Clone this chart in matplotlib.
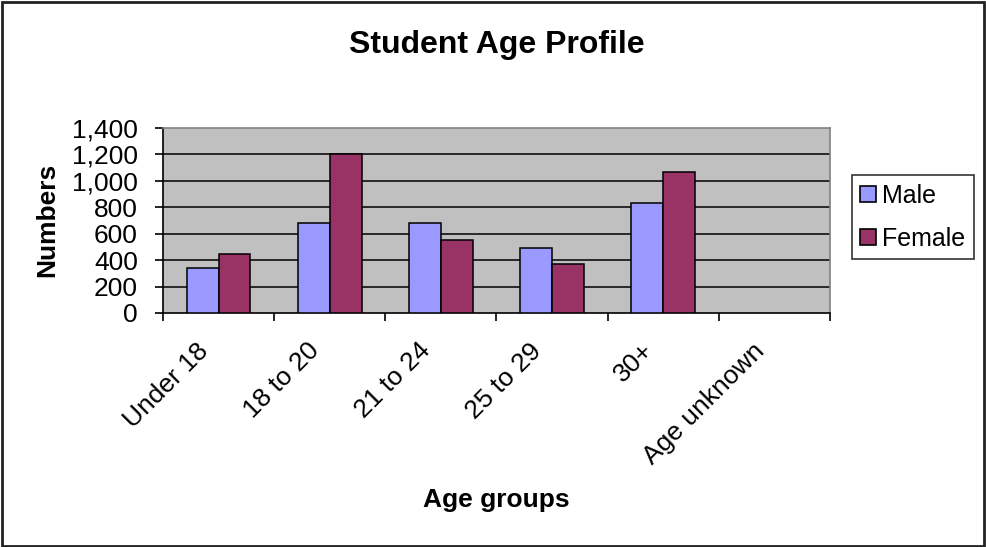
import numpy as np
import matplotlib
matplotlib.use("Agg")
import matplotlib.pyplot as plt
from matplotlib.lines import Line2D
from matplotlib.patches import Rectangle
from matplotlib.transforms import ScaledTranslation

# Data
categories = ["Under 18", "18 to 20", "21 to 24", "25 to 29", "30+", "Age unknown"]
male = [340, 680, 680, 495, 835, np.nan]
female = [445, 1200, 555, 370, 1070, np.nan]
y_ticks = [0, 200, 400, 600, 800, 1000, 1200, 1400]

male_color = "#9999FF"
female_color = "#993366"

plt.rcParams["font.family"] = ["Liberation Sans", "DejaVu Sans"]

fig = plt.figure(figsize=(9.87, 5.47), dpi=100)
ax = fig.add_axes([163 / 987, 1 - 313 / 547, (830 - 163) / 987, (313 - 128) / 547])
ax.set_facecolor("#C0C0C0")

x = np.arange(len(categories))
w = 0.286
ax.bar(x - w / 2, male, w, color=male_color, edgecolor="black", linewidth=1.1, zorder=3)
ax.bar(x + w / 2, female, w, color=female_color, edgecolor="black", linewidth=1.1, zorder=3)

ax.set_xlim(-0.5, len(categories) - 0.5)
ax.set_ylim(0, 1400)
ax.set_yticks(y_ticks)
ax.set_yticklabels([f"{v:,}" for v in y_ticks], fontsize=19)
for v in y_ticks[1:-1]:
    ax.axhline(v, color="black", linewidth=1.1, zorder=1)

# ticks between categories, labels at the centres
ax.set_xticks(np.arange(len(categories) + 1) - 0.5)
ax.set_xticklabels([])
ax.set_xticks(x, minor=True)
ax.set_xticklabels(categories, minor=True, fontsize=19, rotation=45,
                   ha="right", va="baseline", rotation_mode="anchor")
ax.tick_params(axis="x", which="major", direction="out", length=6, width=1.2)
ax.tick_params(axis="x", which="minor", length=0, pad=28)
ax.tick_params(axis="y", direction="out", length=6, width=1.2, pad=12)
shift = ScaledTranslation(-0.09, 0, fig.dpi_scale_trans)
for lbl in ax.get_xticklabels(minor=True):
    lbl.set_transform(lbl.get_transform() + shift)

for side in ["top", "right"]:
    ax.spines[side].set_color("#808080")
    ax.spines[side].set_linewidth(1.2)
for side in ["left", "bottom"]:
    ax.spines[side].set_color("black")
    ax.spines[side].set_linewidth(1.2)

fig.text(496.5 / 987, 1 - 45 / 547, "Student Age Profile", ha="center", va="center",
         fontsize=23, fontweight="bold")
fig.text(47 / 987, 1 - 220 / 547, "Numbers", ha="center", va="center", rotation=90,
         fontsize=19, fontweight="bold")
fig.text(496.5 / 987, 1 - 500 / 547, "Age groups", ha="center", va="center",
         fontsize=19, fontweight="bold")

handles = [
    Line2D([], [], linestyle="none", marker="s", markersize=12,
           markerfacecolor=male_color, markeredgecolor="black", markeredgewidth=1.2),
    Line2D([], [], linestyle="none", marker="s", markersize=12,
           markerfacecolor=female_color, markeredgecolor="black", markeredgewidth=1.2),
]
leg = fig.legend(handles, ["Male", "Female"], loc="upper left",
                 bbox_to_anchor=(852 / 987, 1 - 175 / 547), bbox_transform=fig.transFigure,
                 fontsize=18, frameon=True, fancybox=False, borderaxespad=0,
                 handlelength=0.6, handletextpad=0.25, borderpad=0.35, labelspacing=0.75)
leg.get_frame().set_edgecolor("black")
leg.get_frame().set_linewidth(1.2)

fig.patches.append(Rectangle((0.002, 0.002), 0.995, 0.995, transform=fig.transFigure,
                             fill=False, edgecolor="#222222", linewidth=2))

fig.savefig("out.png", dpi=100)
